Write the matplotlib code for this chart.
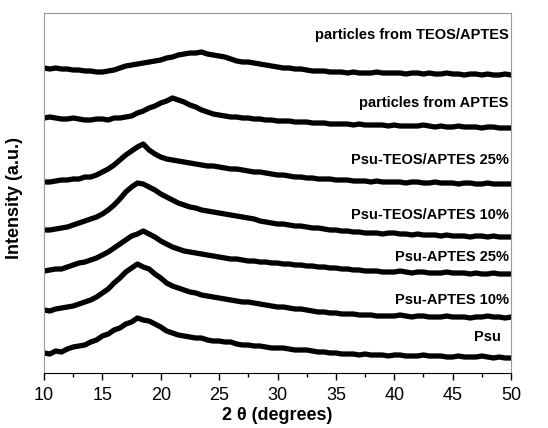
import matplotlib
matplotlib.use("Agg")
import matplotlib.pyplot as plt
import numpy as np
from matplotlib.ticker import MultipleLocator

plt.rcParams["font.family"] = ["Liberation Sans", "DejaVu Sans"]

# 2 theta grid (degrees), 0.5 deg step, shared by all patterns
two_theta = np.arange(10, 50.01, 0.5)

# stacked intensities (a.u.)
psu = [20, 19, 22, 21, 24, 26, 27, 28, 31, 33,
       37, 39, 43, 45, 49, 51, 55, 53, 52, 49,
       46, 42, 40, 38, 37, 36, 35, 35, 33, 32,
       32, 31, 31, 29, 28, 28, 27, 27, 26, 25,
       25, 25, 24, 23, 23, 23, 22, 21, 21, 20,
       20, 19, 19, 19, 18, 19, 18, 18, 18, 17,
       18, 18, 17, 17, 17, 18, 17, 17, 17, 16,
       16, 17, 16, 16, 16, 17, 16, 15, 16, 15,
       15]
psu_aptes_10 = [63, 62, 64, 65, 66, 67, 69, 71, 73, 76,
                80, 84, 90, 95, 101, 105, 109, 106, 104, 99,
                95, 90, 87, 85, 83, 81, 80, 78, 77, 76,
                75, 74, 73, 72, 71, 71, 70, 69, 68, 67,
                66, 66, 65, 64, 64, 63, 62, 61, 61, 60,
                60, 59, 59, 59, 58, 58, 58, 57, 57, 57,
                57, 58, 57, 56, 57, 57, 56, 56, 56, 57,
                56, 56, 56, 55, 56, 56, 57, 56, 56, 55,
                56]
psu_aptes_25 = [102, 103, 104, 104, 106, 108, 110, 111, 113, 115,
                118, 121, 125, 129, 133, 137, 139, 142, 139, 136,
                132, 129, 126, 124, 122, 121, 120, 119, 118, 117,
                116, 115, 114, 114, 113, 112, 112, 111, 111, 110,
                110, 109, 109, 108, 108, 107, 107, 106, 106, 105,
                105, 104, 104, 103, 103, 102, 102, 102, 101, 101,
                101, 102, 101, 100, 101, 101, 100, 100, 100, 101,
                100, 100, 100, 99, 100, 99, 99, 100, 99, 99,
                99]
psu_teos_10 = [143, 143, 144, 145, 146, 148, 150, 152, 154, 156,
               159, 163, 168, 174, 181, 186, 190, 189, 186, 183,
               179, 176, 173, 170, 168, 166, 165, 163, 162, 161,
               160, 159, 158, 157, 156, 155, 154, 152, 151, 150,
               149, 149, 148, 147, 147, 146, 145, 145, 144, 143,
               143, 142, 142, 141, 141, 140, 140, 140, 139, 140,
               140, 139, 139, 138, 139, 138, 138, 138, 137, 138,
               137, 137, 137, 136, 137, 137, 136, 137, 136, 136,
               136]
psu_teos_25 = [191, 191, 192, 193, 193, 194, 194, 196, 196, 198,
               201, 204, 208, 213, 218, 222, 226, 229, 223, 219,
               216, 214, 213, 212, 211, 210, 209, 208, 207, 207,
               206, 205, 204, 204, 203, 202, 201, 201, 200, 199,
               198, 198, 197, 196, 196, 195, 195, 194, 194, 194,
               193, 193, 193, 192, 192, 192, 191, 192, 191, 191,
               191, 191, 190, 191, 191, 190, 190, 191, 190, 190,
               190, 189, 190, 190, 189, 189, 190, 189, 189, 189,
               189]
part_aptes = [255, 256, 255, 254, 254, 255, 254, 253, 253, 254,
              254, 253, 255, 255, 256, 257, 260, 262, 265, 267,
              270, 272, 275, 273, 271, 268, 266, 263, 261, 259,
              258, 257, 256, 256, 255, 255, 254, 254, 253, 253,
              252, 252, 252, 251, 251, 251, 250, 250, 250, 249,
              249, 249, 249, 248, 249, 248, 248, 248, 248, 247,
              248, 247, 247, 247, 247, 248, 247, 246, 247, 246,
              246, 247, 246, 246, 246, 245, 246, 246, 245, 245,
              245]
part_teos = [305, 304, 305, 304, 304, 303, 303, 302, 302, 301,
             301, 302, 303, 305, 307, 308, 309, 310, 311, 312,
             313, 315, 316, 318, 319, 320, 320, 321, 319, 318,
             317, 316, 314, 312, 311, 311, 310, 309, 308, 307,
             306, 305, 305, 304, 304, 303, 302, 302, 302, 301,
             301, 301, 300, 301, 300, 300, 300, 301, 300, 300,
             300, 300, 299, 300, 300, 299, 300, 299, 299, 300,
             299, 299, 298, 299, 299, 298, 299, 298, 298, 299,
             298]

series = [psu, psu_aptes_10, psu_aptes_25, psu_teos_10, psu_teos_25, part_aptes, part_teos]
labels = ["Psu", "Psu-APTES 10%", "Psu-APTES 25%", "Psu-TEOS/APTES 10%",
          "Psu-TEOS/APTES 25%", "particles from APTES", "particles from TEOS/APTES"]
label_y = [36, 73, 116, 158, 213, 270, 338]

fig = plt.figure(figsize=(5.48, 4.28), dpi=100)
ax = fig.add_axes([0.0803, 0.1285, 0.8522, 0.8411])

for ys in series:
    ax.plot(two_theta, ys, color="black", lw=3.8, solid_joinstyle="round")

for lab, ly in zip(labels, label_y):
    x_right = 49.1 if lab == "Psu" else 49.8
    ax.text(x_right, ly, lab, ha="right", va="center", fontsize=10.5, fontweight="bold")

ax.set_xlim(10, 50)
ax.set_ylim(0, 360)
ax.set_yticks([])
ax.xaxis.set_major_locator(MultipleLocator(5))
ax.xaxis.set_minor_locator(MultipleLocator(2.5))
ax.tick_params(axis="x", which="major", direction="out", length=5, width=1, labelsize=13, pad=5)
ax.tick_params(axis="x", which="minor", direction="out", length=3, width=1)

for side in ["top", "right", "left"]:
    ax.spines[side].set_color("#999999")
ax.spines["bottom"].set_color("black")

ax.set_xlabel("2 θ (degrees)", fontsize=13, fontweight="bold", labelpad=2)
ax.set_ylabel("Intensity (a.u.)", fontsize=13, fontweight="bold")
ax.yaxis.set_label_coords(-0.045, 0.486)

fig.savefig("out.png", dpi=100)
